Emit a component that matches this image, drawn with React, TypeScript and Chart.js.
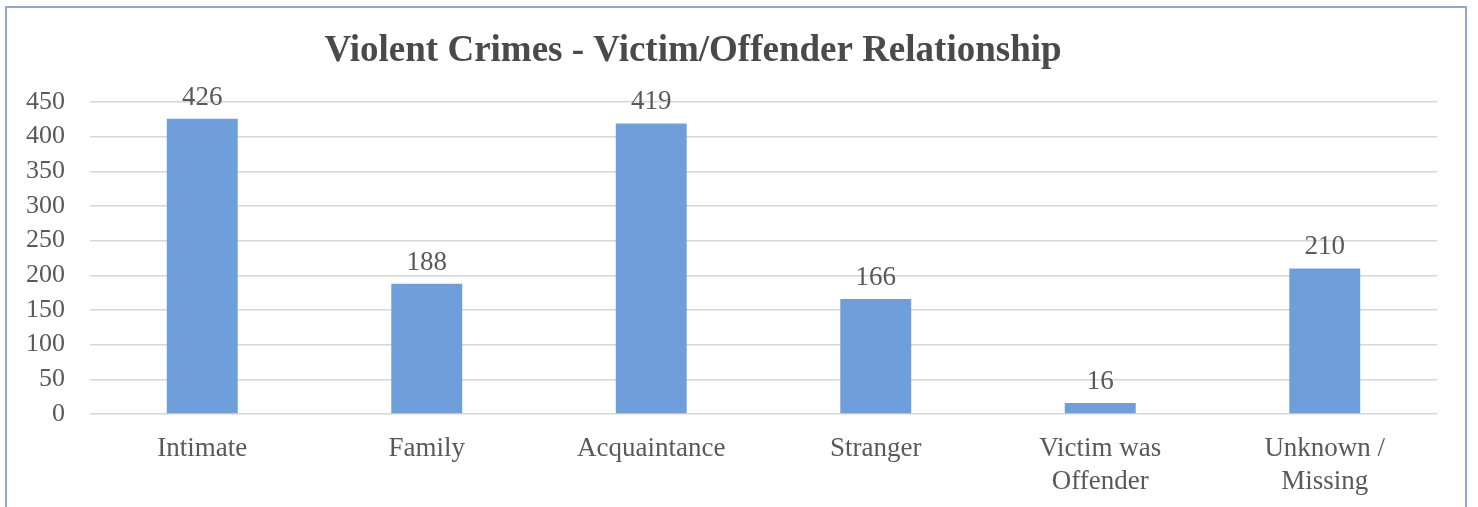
import React, { useEffect, useRef } from "react";
import { Chart, registerables } from "chart.js";

Chart.register(...registerables);

const TITLE = "Violent Crimes - Victim/Offender Relationship";
const categories: (string | string[])[] = [
  "Intimate",
  "Family",
  "Acquaintance",
  "Stranger",
  ["Victim was", "Offender"],
  ["Unknown /", "Missing"],
];
const counts = [426, 188, 419, 166, 16, 210];
const yMin = 0;
const yMax = 450;
const yStep = 50;

const FONT = "'Liberation Serif', 'Times New Roman', serif";
const TEXT = "#595959";

export default function App() {
  const ref = useRef<HTMLCanvasElement | null>(null);

  useEffect(() => {
    document.body.style.margin = "0";
    const canvas = ref.current;
    if (!canvas) return;

    const titlePlugin = {
      id: "customTitle",
      afterDraw(chart: any) {
        const ctx = chart.ctx;
        ctx.save();
        ctx.font = `bold 37px ${FONT}`;
        ctx.fillStyle = "#4a4a4a";
        ctx.textAlign = "center";
        ctx.textBaseline = "alphabetic";
        ctx.fillText(TITLE, 693, 61);
        ctx.restore();
      },
    };

    const labelPlugin = {
      id: "valueLabels",
      afterDatasetsDraw(chart: any) {
        const ctx = chart.ctx;
        const meta = chart.getDatasetMeta(0);
        ctx.save();
        ctx.font = `27px ${FONT}`;
        ctx.fillStyle = TEXT;
        ctx.textAlign = "center";
        ctx.textBaseline = "alphabetic";
        meta.data.forEach((bar: any, i: number) => {
          ctx.fillText(String(counts[i]), bar.x, bar.y - 14);
        });
        ctx.restore();
      },
    };

    const chart = new Chart(canvas, {
      type: "bar",
      data: {
        labels: categories,
        datasets: [
          {
            data: counts,
            backgroundColor: "#6f9fda",
            borderWidth: 0,
            barPercentage: 0.316,
            categoryPercentage: 1,
          },
        ],
      },
      options: {
        responsive: false,
        animation: false,
        layout: { padding: { left: 0, right: 41, top: 102, bottom: 0 } },
        plugins: {
          legend: { display: false },
          title: { display: false },
          tooltip: { enabled: false },
        },
        scales: {
          x: {
            grid: { display: false, drawTicks: false },
            border: { display: false },
            ticks: {
              color: TEXT,
              font: { family: FONT, size: 27, lineHeight: 1.2 },
              padding: 19,
              maxRotation: 0,
              autoSkip: false,
            },
            afterFit(scale: any) {
              scale.height = 93;
            },
          },
          y: {
            min: yMin,
            max: yMax,
            grid: { color: "#d6d6d6", lineWidth: 1.5, drawTicks: false },
            border: { display: false },
            ticks: {
              stepSize: yStep,
              color: TEXT,
              font: { family: FONT, size: 26 },
              padding: 25,
            },
            afterFit(scale: any) {
              scale.width = 90;
            },
          },
        },
      },
      plugins: [titlePlugin, labelPlugin],
    });

    return () => chart.destroy();
  }, []);

  return (
    <div style={{ position: "relative", width: 1478, height: 507, overflow: "hidden", background: "#fff" }}>
      <canvas ref={ref} width={1478} height={507} style={{ position: "absolute", left: 0, top: 0 }} />
      <div
        style={{
          position: "absolute",
          left: 5,
          top: 6,
          width: 1458,
          height: 520,
          border: "2px solid #8eaacd",
          pointerEvents: "none",
        }}
      />
    </div>
  );
}
